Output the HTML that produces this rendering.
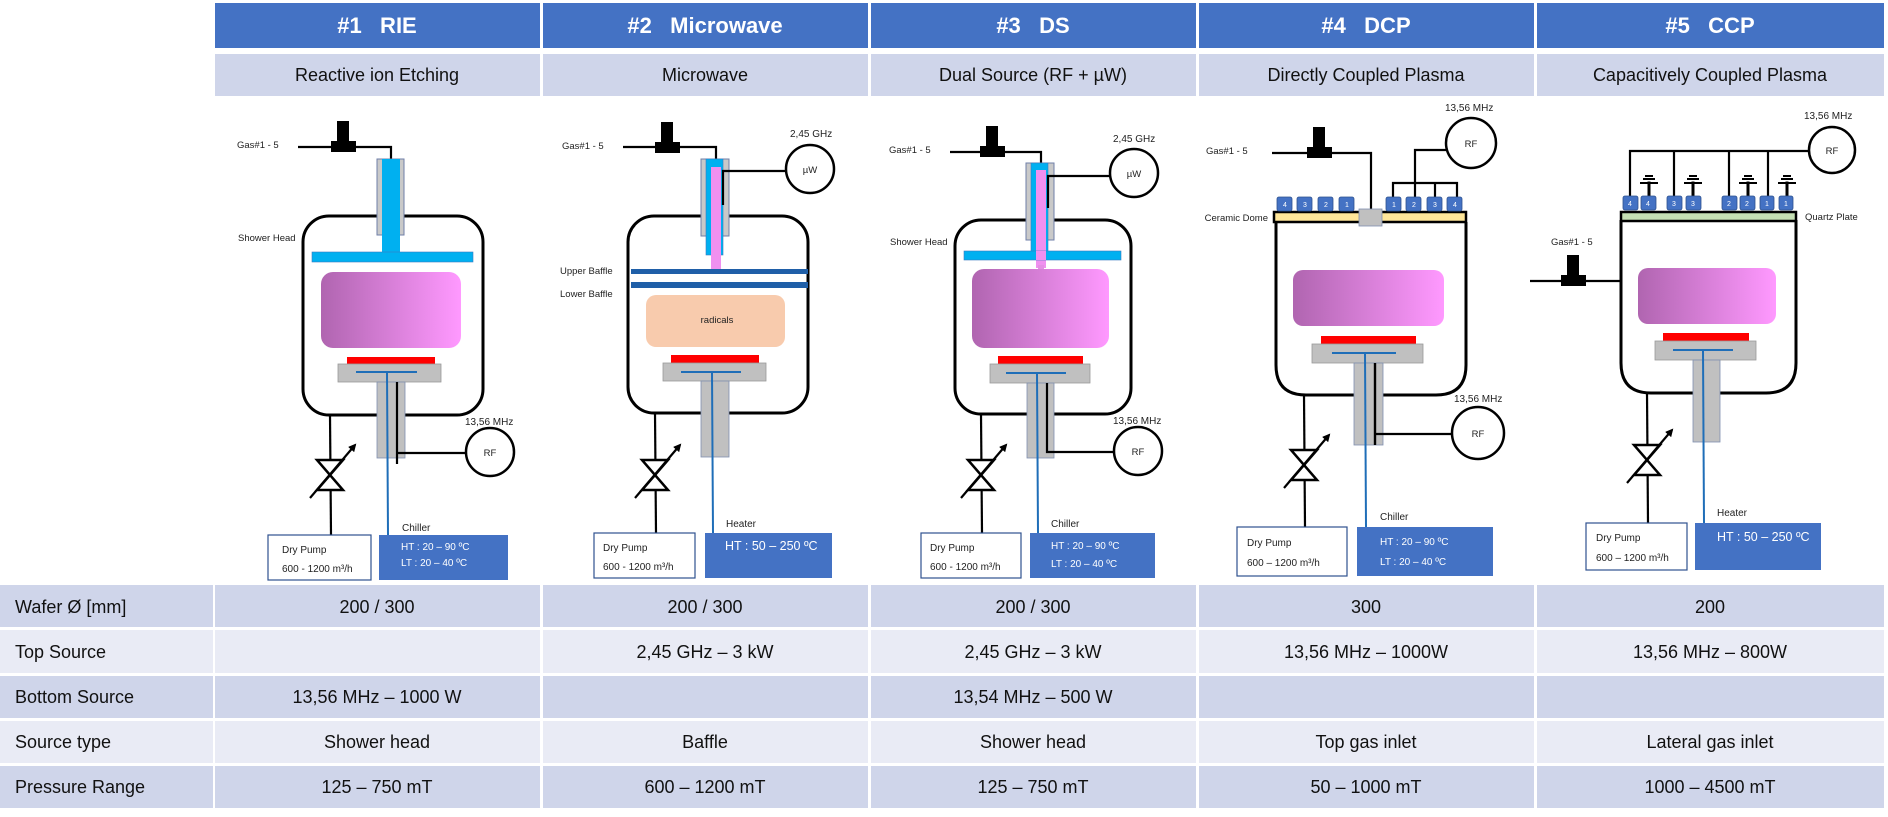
<!DOCTYPE html>
<html><head><meta charset="utf-8"><style>
html,body{margin:0;padding:0;background:#fff;}
svg{display:block;}
.hd{font-family:"Liberation Sans",sans-serif;font-weight:bold;font-size:22px;fill:#fff;}
.sh{font-family:"Liberation Sans",sans-serif;font-size:18px;fill:#111;}
.tb{font-family:"Liberation Sans",sans-serif;font-size:18px;fill:#111;}
.sm{font-family:"Liberation Sans",sans-serif;font-size:9.5px;fill:#222;}
.bx{font-family:"Liberation Sans",sans-serif;font-size:10px;fill:#222;}
.wb{font-family:"Liberation Sans",sans-serif;font-size:10px;fill:#fff;}
.wl{font-family:"Liberation Sans",sans-serif;font-size:12.5px;fill:#fff;}
</style></head><body>
<svg width="1888" height="817" viewBox="0 0 1888 817" xmlns="http://www.w3.org/2000/svg">
<defs>
<linearGradient id="pg" x1="0" x2="1" y1="0" y2="0"><stop offset="0" stop-color="#b065b0"/><stop offset="1" stop-color="#ff99ff"/></linearGradient>
<marker id="ah" markerWidth="8" markerHeight="8" refX="6" refY="4" orient="auto" markerUnits="userSpaceOnUse"><path d="M0,0 L8,4 L0,8 z" fill="#000"/></marker>
<g id="valve"><polygon points="-13,-15 13,-15 -13,15 13,15" fill="#fff" stroke="#000" stroke-width="2.5" stroke-linejoin="miter"/><line x1="-20" y1="23" x2="25" y2="-30" stroke="#000" stroke-width="2.2" marker-end="url(#ah)"/></g>
<g id="gv"><rect x="-12" y="-5" width="25" height="11" fill="#000"/><rect x="-6" y="-25" width="12" height="21" fill="#000"/></g>
</defs>

<!-- Headers -->
<g>
<rect x="215" y="3" width="325" height="45" fill="#4472c4"/>
<rect x="543" y="3" width="325" height="45" fill="#4472c4"/>
<rect x="871" y="3" width="325" height="45" fill="#4472c4"/>
<rect x="1199" y="3" width="335" height="45" fill="#4472c4"/>
<rect x="1537" y="3" width="347" height="45" fill="#4472c4"/>
<text class="hd" x="377" y="33" text-anchor="middle" xml:space="preserve">#1   RIE</text>
<text class="hd" x="705" y="33" text-anchor="middle" xml:space="preserve">#2   Microwave</text>
<text class="hd" x="1033" y="33" text-anchor="middle" xml:space="preserve">#3   DS</text>
<text class="hd" x="1366" y="33" text-anchor="middle" xml:space="preserve">#4   DCP</text>
<text class="hd" x="1710" y="33" text-anchor="middle" xml:space="preserve">#5   CCP</text>
<rect x="215" y="54" width="325" height="42" fill="#cfd5ea"/>
<rect x="543" y="54" width="325" height="42" fill="#cfd5ea"/>
<rect x="871" y="54" width="325" height="42" fill="#cfd5ea"/>
<rect x="1199" y="54" width="335" height="42" fill="#cfd5ea"/>
<rect x="1537" y="54" width="347" height="42" fill="#cfd5ea"/>
<text class="sh" x="377" y="81" text-anchor="middle">Reactive ion Etching</text>
<text class="sh" x="705" y="81" text-anchor="middle">Microwave</text>
<text class="sh" x="1033" y="81" text-anchor="middle">Dual Source (RF + µW)</text>
<text class="sh" x="1366" y="81" text-anchor="middle">Directly Coupled Plasma</text>
<text class="sh" x="1710" y="81" text-anchor="middle">Capacitively Coupled Plasma</text>
</g>

<!-- Table -->
<g>
<g fill="#cfd5ea">
<rect x="0" y="585" width="213" height="42"/><rect x="215" y="585" width="325" height="42"/><rect x="543" y="585" width="325" height="42"/><rect x="871" y="585" width="325" height="42"/><rect x="1199" y="585" width="335" height="42"/><rect x="1537" y="585" width="347" height="42"/>
<rect x="0" y="676" width="213" height="42"/><rect x="215" y="676" width="325" height="42"/><rect x="543" y="676" width="325" height="42"/><rect x="871" y="676" width="325" height="42"/><rect x="1199" y="676" width="335" height="42"/><rect x="1537" y="676" width="347" height="42"/>
<rect x="0" y="766" width="213" height="42"/><rect x="215" y="766" width="325" height="42"/><rect x="543" y="766" width="325" height="42"/><rect x="871" y="766" width="325" height="42"/><rect x="1199" y="766" width="335" height="42"/><rect x="1537" y="766" width="347" height="42"/>
</g>
<g fill="#e9ebf5">
<rect x="0" y="630" width="213" height="43"/><rect x="215" y="630" width="325" height="43"/><rect x="543" y="630" width="325" height="43"/><rect x="871" y="630" width="325" height="43"/><rect x="1199" y="630" width="335" height="43"/><rect x="1537" y="630" width="347" height="43"/>
<rect x="0" y="721" width="213" height="42"/><rect x="215" y="721" width="325" height="42"/><rect x="543" y="721" width="325" height="42"/><rect x="871" y="721" width="325" height="42"/><rect x="1199" y="721" width="335" height="42"/><rect x="1537" y="721" width="347" height="42"/>
</g>
<text class="tb" x="15" y="613">Wafer Ø [mm]</text>
<text class="tb" x="15" y="658">Top Source</text>
<text class="tb" x="15" y="703">Bottom Source</text>
<text class="tb" x="15" y="748">Source type</text>
<text class="tb" x="15" y="793">Pressure Range</text>
<g text-anchor="middle" class="tb">
<text class="tb" x="377" y="613">200 / 300</text><text class="tb" x="705" y="613">200 / 300</text><text class="tb" x="1033" y="613">200 / 300</text><text class="tb" x="1366" y="613">300</text><text class="tb" x="1710" y="613">200</text>
<text class="tb" x="705" y="658">2,45 GHz – 3 kW</text><text class="tb" x="1033" y="658">2,45 GHz – 3 kW</text><text class="tb" x="1366" y="658">13,56 MHz – 1000W</text><text class="tb" x="1710" y="658">13,56 MHz – 800W</text>
<text class="tb" x="377" y="703">13,56 MHz – 1000 W</text><text class="tb" x="1033" y="703">13,54 MHz – 500 W</text>
<text class="tb" x="377" y="748">Shower head</text><text class="tb" x="705" y="748">Baffle</text><text class="tb" x="1033" y="748">Shower head</text><text class="tb" x="1366" y="748">Top gas inlet</text><text class="tb" x="1710" y="748">Lateral gas inlet</text>
<text class="tb" x="377" y="793">125 – 750 mT</text><text class="tb" x="705" y="793">600 – 1200 mT</text><text class="tb" x="1033" y="793">125 – 750 mT</text><text class="tb" x="1366" y="793">50  – 1000 mT</text><text class="tb" x="1710" y="793">1000 – 4500 mT</text>
</g>
</g>

<!-- COL 1 RIE -->
<g>
<text class="sm" x="237" y="148">Gas#1 - 5</text>
<polyline points="298,147 391,147 391,159" fill="none" stroke="#000" stroke-width="2.2"/>
<use href="#gv" x="343" y="146"/>
<rect x="303" y="216" width="180" height="199" rx="26" fill="#fff" stroke="#000" stroke-width="3"/>
<rect x="377" y="159" width="27" height="76" fill="#c9c9c9" stroke="#6f7fa8" stroke-width="1"/>
<rect x="382" y="159" width="18" height="94" fill="#00b0f0"/>
<text class="sm" x="238" y="241">Shower Head</text>
<rect x="312" y="252" width="161" height="10" fill="#00b0f0" stroke="#3a7ac0" stroke-width="0.6"/>
<rect x="321" y="272" width="140" height="76" rx="12" fill="url(#pg)"/>
<rect x="347" y="357" width="88" height="7" fill="#ff0000"/>
<rect x="338" y="364" width="103" height="18" fill="#c0c0c0" stroke="#999" stroke-width="0.8"/>
<line x1="356" y1="372" x2="417" y2="372" stroke="#1f6eb8" stroke-width="2"/>
<rect x="377" y="382" width="28" height="76" fill="#c0c0c0" stroke="#7f8fb0" stroke-width="0.8"/>
<line x1="387" y1="372" x2="388" y2="535" stroke="#1f6eb8" stroke-width="2"/>
<polyline points="397,382 397,464" fill="none" stroke="#000" stroke-width="2.2"/>
<line x1="397" y1="453" x2="466" y2="453" stroke="#000" stroke-width="2.2"/>
<circle cx="490" cy="452" r="24" fill="#fff" stroke="#000" stroke-width="2.5"/>
<text class="sm" x="490" y="456" text-anchor="middle">RF</text>
<text class="bx" x="465" y="425">13,56 MHz</text>
<line x1="330" y1="415" x2="331" y2="535" stroke="#000" stroke-width="2.2"/>
<use href="#valve" x="330" y="475"/>
<text class="bx" x="402" y="531">Chiller</text>
<rect x="268" y="535" width="103" height="45" fill="#fff" stroke="#2f528f" stroke-width="1.2"/>
<text class="bx" x="282" y="553">Dry Pump</text>
<text class="bx" x="282" y="572">600 - 1200 m³/h</text>
<rect x="379" y="535" width="129" height="45" fill="#4472c4"/>
<text class="wb" x="401" y="550">HT : 20 – 90 ºC</text>
<text class="wb" x="401" y="566">LT :  20 – 40 ºC</text>
</g>

<!-- COL 2 Microwave -->
<g>
<text class="sm" x="562" y="149">Gas#1 - 5</text>
<polyline points="623,147 716,147 716,160" fill="none" stroke="#000" stroke-width="2.2"/>
<use href="#gv" x="667" y="147"/>
<rect x="628" y="216" width="180" height="197" rx="26" fill="#fff" stroke="#000" stroke-width="3"/>
<rect x="701" y="159" width="28" height="77" fill="#c9c9c9" stroke="#6f7fa8" stroke-width="1"/>
<rect x="706" y="159" width="17" height="96" fill="#00b0f0" stroke="#3a7ac0" stroke-width="0.6"/>
<rect x="711" y="167" width="10" height="102" fill="#f090f0"/>
<polyline points="723,205 723,171 786,171" fill="none" stroke="#000" stroke-width="2.2"/>
<circle cx="810" cy="169" r="24" fill="#fff" stroke="#000" stroke-width="2.5"/>
<text class="sm" x="810" y="173" text-anchor="middle">µW</text>
<text class="bx" x="790" y="137">2,45 GHz</text>
<rect x="631" y="269" width="177" height="5" fill="#1f5fa8"/>
<rect x="631" y="282" width="177" height="6" fill="#1f5fa8"/>
<text class="sm" x="560" y="274">Upper Baffle</text>
<text class="sm" x="560" y="297">Lower Baffle</text>
<rect x="646" y="295" width="139" height="52" rx="10" fill="#f8cbad"/>
<text class="sm" x="717" y="323" text-anchor="middle">radicals</text>
<rect x="671" y="355" width="88" height="8" fill="#ff0000"/>
<rect x="663" y="363" width="103" height="18" fill="#c0c0c0" stroke="#999" stroke-width="0.8"/>
<line x1="681" y1="372" x2="741" y2="372" stroke="#1f6eb8" stroke-width="2"/>
<rect x="701" y="381" width="28" height="76" fill="#c0c0c0" stroke="#7f8fb0" stroke-width="0.8"/>
<line x1="712" y1="372" x2="713" y2="533" stroke="#1f6eb8" stroke-width="2"/>
<line x1="655" y1="413" x2="656" y2="533" stroke="#000" stroke-width="2.2"/>
<use href="#valve" x="655" y="475"/>
<text class="bx" x="726" y="527">Heater</text>
<rect x="594" y="533" width="101" height="45" fill="#fff" stroke="#2f528f" stroke-width="1.2"/>
<text class="bx" x="603" y="551">Dry Pump</text>
<text class="bx" x="603" y="570">600 - 1200 m³/h</text>
<rect x="705" y="533" width="127" height="45" fill="#4472c4"/>
<text class="wl" x="725" y="550">HT : 50 – 250 ºC</text>
</g>

<!-- COL 3 DS -->
<g>
<text class="sm" x="889" y="153">Gas#1 - 5</text>
<polyline points="950,152 1041,152 1041,164" fill="none" stroke="#000" stroke-width="2.2"/>
<use href="#gv" x="992" y="151"/>
<rect x="955" y="220" width="176" height="194" rx="26" fill="#fff" stroke="#000" stroke-width="3"/>
<rect x="1026" y="163" width="28" height="77" fill="#c9c9c9" stroke="#6f7fa8" stroke-width="1"/>
<rect x="1031" y="163" width="17" height="95" fill="#00b0f0" stroke="#3a7ac0" stroke-width="0.6"/>
<rect x="1036" y="170" width="10" height="98" fill="#f090f0"/>
<rect x="1038" y="265" width="6" height="8" fill="#e48ee4"/>
<polyline points="1048,208 1048,176 1110,176" fill="none" stroke="#000" stroke-width="2.2"/>
<circle cx="1134" cy="173" r="24" fill="#fff" stroke="#000" stroke-width="2.5"/>
<text class="sm" x="1134" y="177" text-anchor="middle">µW</text>
<text class="bx" x="1113" y="142">2,45 GHz</text>
<text class="sm" x="890" y="245">Shower Head</text>
<rect x="964" y="251" width="157" height="9" fill="#00b0f0" stroke="#3a7ac0" stroke-width="0.6"/>
<rect x="1036" y="251" width="10" height="9" fill="#f090f0"/>
<rect x="972" y="269" width="137" height="79" rx="12" fill="url(#pg)"/>
<rect x="998" y="356" width="85" height="8" fill="#ff0000"/>
<rect x="990" y="364" width="100" height="19" fill="#c0c0c0" stroke="#999" stroke-width="0.8"/>
<line x1="1006" y1="373" x2="1066" y2="373" stroke="#1f6eb8" stroke-width="2"/>
<rect x="1027" y="383" width="27" height="75" fill="#c0c0c0" stroke="#7f8fb0" stroke-width="0.8"/>
<line x1="1037" y1="373" x2="1038" y2="533" stroke="#1f6eb8" stroke-width="2"/>
<polyline points="1047,383 1047,452 1114,452" fill="none" stroke="#000" stroke-width="2.2"/>
<circle cx="1138" cy="451" r="24" fill="#fff" stroke="#000" stroke-width="2.5"/>
<text class="sm" x="1138" y="455" text-anchor="middle">RF</text>
<text class="bx" x="1113" y="424">13,56 MHz</text>
<line x1="981" y1="414" x2="982" y2="533" stroke="#000" stroke-width="2.2"/>
<use href="#valve" x="981" y="475"/>
<text class="bx" x="1051" y="527">Chiller</text>
<rect x="921" y="533" width="100" height="45" fill="#fff" stroke="#2f528f" stroke-width="1.2"/>
<text class="bx" x="930" y="551">Dry Pump</text>
<text class="bx" x="930" y="570">600 - 1200 m³/h</text>
<rect x="1030" y="533" width="125" height="45" fill="#4472c4"/>
<text class="wb" x="1051" y="549">HT : 20 – 90 ºC</text>
<text class="wb" x="1051" y="567">LT :  20 – 40 ºC</text>
</g>

<!-- COL 4 DCP -->
<g>
<text class="bx" x="1445" y="111">13,56 MHz</text>
<circle cx="1471" cy="143" r="25" fill="#fff" stroke="#000" stroke-width="2.5"/>
<text class="sm" x="1471" y="147" text-anchor="middle">RF</text>
<polyline points="1447,150 1415,150 1415,183" fill="none" stroke="#000" stroke-width="2.2"/>
<polyline points="1393,200 1393,183 1457,183 1457,200" fill="none" stroke="#000" stroke-width="2.2"/>
<line x1="1415" y1="183" x2="1415" y2="200" stroke="#000" stroke-width="2.2"/>
<line x1="1435" y1="183" x2="1435" y2="200" stroke="#000" stroke-width="2.2"/>
<text class="sm" x="1206" y="154">Gas#1 - 5</text>
<polyline points="1272,153 1371,153 1371,210" fill="none" stroke="#000" stroke-width="2.2"/>
<use href="#gv" x="1319" y="152"/>
<path d="M1276,222 L1276,365 Q1276,395 1306,395 L1436,395 Q1466,395 1466,365 L1466,222" fill="#fff" stroke="#000" stroke-width="3"/>
<rect x="1274" y="212" width="192" height="10" fill="#ffe699" stroke="#000" stroke-width="2.5"/>
<rect x="1359" y="209" width="23" height="17" fill="#c0c0c0" stroke="#7f8fb0" stroke-width="0.8"/>
<g fill="#4472c4" stroke="#2f528f" stroke-width="0.8">
<rect x="1277" y="197" width="15" height="14" rx="2"/><rect x="1297" y="197" width="15" height="14" rx="2"/><rect x="1318" y="197" width="15" height="14" rx="2"/><rect x="1339" y="197" width="15" height="14" rx="2"/>
<rect x="1386" y="197" width="15" height="14" rx="2"/><rect x="1406" y="197" width="15" height="14" rx="2"/><rect x="1427" y="197" width="15" height="14" rx="2"/><rect x="1447" y="197" width="15" height="14" rx="2"/>
</g>
<g font-family="Liberation Sans,sans-serif" font-size="7" fill="#fff" text-anchor="middle">
<text x="1285" y="207">4</text><text x="1305" y="207">3</text><text x="1326" y="207">2</text><text x="1347" y="207">1</text>
<text x="1394" y="207">1</text><text x="1414" y="207">2</text><text x="1435" y="207">3</text><text x="1455" y="207">4</text>
</g>
<text class="sm" x="1268" y="221" text-anchor="end">Ceramic Dome</text>
<rect x="1293" y="270" width="151" height="56" rx="10" fill="url(#pg)"/>
<rect x="1321" y="336" width="95" height="8" fill="#ff0000"/>
<rect x="1312" y="344" width="111" height="19" fill="#c0c0c0" stroke="#999" stroke-width="0.8"/>
<line x1="1332" y1="353" x2="1396" y2="353" stroke="#1f6eb8" stroke-width="2"/>
<rect x="1354" y="363" width="29" height="82" fill="#c0c0c0" stroke="#7f8fb0" stroke-width="0.8"/>
<line x1="1365" y1="353" x2="1366" y2="527" stroke="#1f6eb8" stroke-width="2"/>
<polyline points="1375,363 1375,445" fill="none" stroke="#000" stroke-width="2.4"/>
<line x1="1375" y1="434" x2="1452" y2="434" stroke="#000" stroke-width="2.2"/>
<circle cx="1478" cy="433" r="26" fill="#fff" stroke="#000" stroke-width="2.5"/>
<text class="sm" x="1478" y="437" text-anchor="middle">RF</text>
<text class="bx" x="1454" y="402">13,56 MHz</text>
<line x1="1304" y1="395" x2="1305" y2="527" stroke="#000" stroke-width="2.2"/>
<use href="#valve" x="1304" y="465"/>
<text class="bx" x="1380" y="520">Chiller</text>
<rect x="1237" y="527" width="110" height="49" fill="#fff" stroke="#2f528f" stroke-width="1.2"/>
<text class="bx" x="1247" y="546">Dry Pump</text>
<text class="bx" x="1247" y="566">600 – 1200 m³/h</text>
<rect x="1357" y="527" width="136" height="49" fill="#4472c4"/>
<text class="wb" x="1380" y="545">HT : 20 – 90 ºC</text>
<text class="wb" x="1380" y="565">LT : 20 – 40 ºC</text>
</g>

<!-- COL 5 CCP -->
<g>
<text class="bx" x="1804" y="119">13,56 MHz</text>
<circle cx="1832" cy="150" r="23" fill="#fff" stroke="#000" stroke-width="2.5"/>
<text class="sm" x="1832" y="154" text-anchor="middle">RF</text>
<polyline points="1630,197 1630,151 1809,151" fill="none" stroke="#000" stroke-width="2.2"/>
<line x1="1674" y1="151" x2="1674" y2="197" stroke="#000" stroke-width="2.2"/>
<line x1="1729" y1="151" x2="1729" y2="197" stroke="#000" stroke-width="2.2"/>
<line x1="1768" y1="151" x2="1768" y2="197" stroke="#000" stroke-width="2.2"/>
<g fill="#000" stroke="#000">
<g transform="translate(1649,0)"><rect x="-1" y="182" width="2" height="14"/><rect x="-9" y="182" width="18" height="2" stroke="none"/><rect x="-6" y="178" width="12" height="2" stroke="none"/><rect x="-4" y="175" width="8" height="2" stroke="none"/></g>
<g transform="translate(1693,0)"><rect x="-1" y="182" width="2" height="14"/><rect x="-9" y="182" width="18" height="2" stroke="none"/><rect x="-6" y="178" width="12" height="2" stroke="none"/><rect x="-4" y="175" width="8" height="2" stroke="none"/></g>
<g transform="translate(1748,0)"><rect x="-1" y="182" width="2" height="14"/><rect x="-9" y="182" width="18" height="2" stroke="none"/><rect x="-6" y="178" width="12" height="2" stroke="none"/><rect x="-4" y="175" width="8" height="2" stroke="none"/></g>
<g transform="translate(1787,0)"><rect x="-1" y="182" width="2" height="14"/><rect x="-9" y="182" width="18" height="2" stroke="none"/><rect x="-6" y="178" width="12" height="2" stroke="none"/><rect x="-4" y="175" width="8" height="2" stroke="none"/></g>
</g>
<path d="M1621,220 L1621,363 Q1621,393 1651,393 L1766,393 Q1796,393 1796,363 L1796,220" fill="#fff" stroke="#000" stroke-width="3"/>
<rect x="1621" y="212" width="175" height="9" fill="#c5e0b4" stroke="#000" stroke-width="2.5"/>
<g fill="#4472c4" stroke="#2f528f" stroke-width="0.8">
<rect x="1623" y="196" width="15" height="14" rx="2"/><rect x="1641" y="196" width="15" height="14" rx="2"/><rect x="1667" y="196" width="15" height="14" rx="2"/><rect x="1686" y="196" width="15" height="14" rx="2"/>
<rect x="1722" y="196" width="15" height="14" rx="2"/><rect x="1740" y="196" width="15" height="14" rx="2"/><rect x="1760" y="196" width="14" height="14" rx="2"/><rect x="1779" y="196" width="14" height="14" rx="2"/>
</g>
<g font-family="Liberation Sans,sans-serif" font-size="7" fill="#fff" text-anchor="middle">
<text x="1630" y="206">4</text><text x="1648" y="206">4</text><text x="1674" y="206">3</text><text x="1693" y="206">3</text>
<text x="1729" y="206">2</text><text x="1747" y="206">2</text><text x="1767" y="206">1</text><text x="1786" y="206">1</text>
</g>
<text class="sm" x="1805" y="220">Quartz Plate</text>
<text class="sm" x="1551" y="245">Gas#1 - 5</text>
<line x1="1530" y1="281" x2="1620" y2="281" stroke="#000" stroke-width="2.2"/>
<use href="#gv" x="1573" y="280"/>
<rect x="1638" y="268" width="138" height="56" rx="10" fill="url(#pg)"/>
<rect x="1663" y="333" width="86" height="8" fill="#ff0000"/>
<rect x="1655" y="341" width="101" height="19" fill="#c0c0c0" stroke="#999" stroke-width="0.8"/>
<line x1="1673" y1="350" x2="1733" y2="350" stroke="#1f6eb8" stroke-width="2"/>
<rect x="1693" y="360" width="27" height="82" fill="#c0c0c0" stroke="#7f8fb0" stroke-width="0.8"/>
<line x1="1703" y1="350" x2="1704" y2="523" stroke="#1f6eb8" stroke-width="2"/>
<line x1="1647" y1="393" x2="1648" y2="523" stroke="#000" stroke-width="2.2"/>
<use href="#valve" x="1647" y="460"/>
<text class="bx" x="1717" y="516">Heater</text>
<rect x="1586" y="523" width="101" height="47" fill="#fff" stroke="#2f528f" stroke-width="1.2"/>
<text class="bx" x="1596" y="541">Dry Pump</text>
<text class="bx" x="1596" y="561">600 – 1200 m³/h</text>
<rect x="1695" y="523" width="126" height="47" fill="#4472c4"/>
<text class="wl" x="1717" y="541">HT : 50 – 250 ºC</text>
</g>
</svg>
</body></html>
